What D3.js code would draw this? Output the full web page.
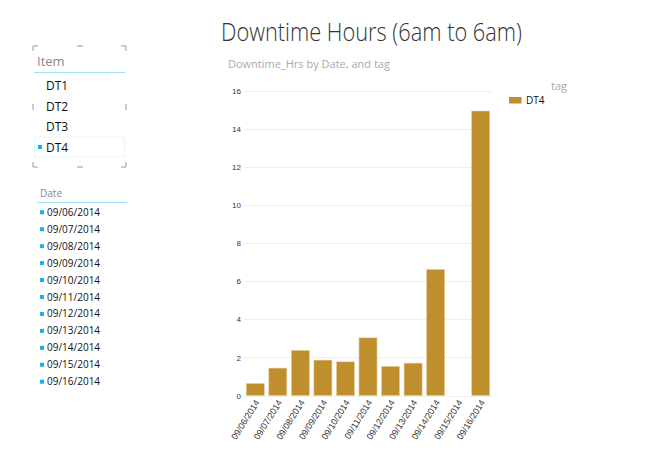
<!DOCTYPE html>
<html>
<head>
<meta charset="utf-8">
<script src="https://cdn.jsdelivr.net/npm/d3@7"></script>
<style>
  body { margin: 0; background: #fff; }
  svg { display: block; font-family: "Segoe UI", "Open Sans", "DejaVu Sans", sans-serif; }
</style>
</head>
<body>
<div id="chart"></div>
<script>
// data
const dates = [`09/06/2014`, `09/07/2014`, `09/08/2014`, `09/09/2014`, `09/10/2014`, `09/11/2014`,
  `09/12/2014`, `09/13/2014`, `09/14/2014`, `09/15/2014`, `09/16/2014`];
const downtimeHrs = [0.63, 1.44, 2.37, 1.86, 1.77, 3.03, 1.53, 1.70, 6.62, 0, 14.95];
const items = [`DT1`, `DT2`, `DT3`, `DT4`];
const selectedItem = `DT4`;
const yTicks = [0, 2, 4, 6, 8, 10, 12, 14, 16];
const seriesName = `DT4`;

const W = 669, H = 470;
const BAR_COLOR = `#bf8e2d`;

let svg = d3.select(`#chart`).append(`svg`)
  .attr(`width`, W)
  .attr(`height`, H);

// title
svg.append(`text`)
  .attr(`x`, 221).attr(`y`, 41)
  .attr(`textLength`, 301).attr(`lengthAdjust`, `spacingAndGlyphs`)
  .style(`font-size`, `25px`).style(`font-weight`, 300)
  .attr(`fill`, `#333`)
  .text(`Downtime Hours (6am to 6am)`);

// #region item slicer
let itemSlicer = svg.append(`g`).attr(`class`, `itemSlicer`);
let box = {x0: 33, y0: 46, x1: 126, y1: 167};
let cornerLen = 5;
let cornerMarks = [
  [[box.x0, box.y0 + cornerLen], [box.x0, box.y0], [box.x0 + cornerLen, box.y0]],
  [[box.x1 - cornerLen, box.y0], [box.x1, box.y0], [box.x1, box.y0 + cornerLen]],
  [[box.x0, box.y1 - cornerLen], [box.x0, box.y1], [box.x0 + cornerLen, box.y1]],
  [[box.x1 - cornerLen, box.y1], [box.x1, box.y1], [box.x1, box.y1 - cornerLen]],
  [[77, box.y0], [83, box.y0]],
  [[77, box.y1], [83, box.y1]],
  [[box.x0, 104], [box.x0, 110]],
  [[box.x1, 104], [box.x1, 110]]
];
itemSlicer.selectAll(`path.corner`).data(cornerMarks).join(`path`)
  .attr(`class`, `corner`)
  .attr(`d`, d3.line())
  .attr(`fill`, `none`).attr(`stroke`, `#999`).attr(`stroke-width`, 1);

itemSlicer.append(`text`)
  .attr(`x`, 37).attr(`y`, 66)
  .style(`font-size`, `13px`).attr(`fill`, `#888`)
  .text(`Item`);
itemSlicer.append(`line`)
  .attr(`x1`, 34).attr(`x2`, 125).attr(`y1`, 72.5).attr(`y2`, 72.5)
  .attr(`stroke`, `#9fe0f0`).attr(`stroke-width`, 1);

let itemY = d3.scalePoint().domain(items).range([90, 151.5]);
// dotted highlight around the selected item
itemSlicer.append(`rect`)
  .attr(`x`, 34.5).attr(`y`, itemY(selectedItem) - 14.5)
  .attr(`width`, 90).attr(`height`, 20)
  .attr(`fill`, `none`).attr(`stroke`, `#cdeef6`).attr(`stroke-dasharray`, `1,1`);
itemSlicer.selectAll(`text.item`).data(items).join(`text`)
  .attr(`class`, `item`)
  .attr(`x`, 46).attr(`y`, d => itemY(d))
  .style(`font-size`, `12px`).attr(`fill`, `#111`)
  .text(d => d);
itemSlicer.selectAll(`rect.sel`).data(items.filter(d => d === selectedItem)).join(`rect`)
  .attr(`class`, `sel`)
  .attr(`x`, 38).attr(`y`, d => itemY(d) - 6.5)
  .attr(`width`, 4).attr(`height`, 4)
  .attr(`fill`, `#1ab0e8`);
// #endregion

// #region date slicer
let dateSlicer = svg.append(`g`).attr(`class`, `dateSlicer`);
dateSlicer.append(`text`)
  .attr(`class`, `header`)
  .attr(`x`, 40).attr(`y`, 197)
  .style(`font-size`, `10px`).attr(`fill`, `#888`)
  .text(`Date`);
dateSlicer.append(`line`)
  .attr(`x1`, 37).attr(`x2`, 127).attr(`y1`, 202.5).attr(`y2`, 202.5)
  .attr(`stroke`, `#9fe0f0`).attr(`stroke-width`, 1);
let dateY = d3.scalePoint().domain(dates).range([212.3, 381.7]);
dateSlicer.selectAll(`rect.sel`).data(dates).join(`rect`)
  .attr(`class`, `sel`)
  .attr(`x`, 40).attr(`y`, d => dateY(d) - 2)
  .attr(`width`, 4).attr(`height`, 4)
  .attr(`fill`, `#1ab0e8`);
dateSlicer.selectAll(`text.date`).data(dates).join(`text`)
  .attr(`class`, `date`)
  .attr(`x`, 47).attr(`y`, d => dateY(d) + 3.5)
  .style(`font-size`, `10px`).attr(`fill`, `#111`)
  .text(d => d);
// #endregion

// #region column chart
svg.append(`text`)
  .attr(`x`, 228).attr(`y`, 68)
  .style(`font-size`, `11px`).attr(`fill`, `#aaa`)
  .text(`Downtime_Hrs by Date, and tag`);

let x = d3.scaleBand().domain(dates).range([244, 492]).paddingInner(0.2).paddingOuter(0.1);
let y = d3.scaleLinear().domain([0, 16]).range([395.5, 91]);

let grid = svg.append(`g`).attr(`class`, `grid`);
grid.selectAll(`line`).data(yTicks).join(`line`)
  .attr(`x1`, 244).attr(`x2`, 492)
  .attr(`y1`, d => Math.round(y(d)) + 0.5).attr(`y2`, d => Math.round(y(d)) + 0.5)
  .attr(`stroke`, `#eeeeee`);

let yAxis = svg.append(`g`)
  .attr(`transform`, `translate(241,0)`)
  .call(d3.axisLeft(y).tickValues(yTicks).tickSize(0).tickPadding(0));
yAxis.select(`.domain`).remove();
yAxis.selectAll(`text`)
  .style(`font-size`, `8px`).attr(`fill`, `#333`)
  .style(`font-family`, `"Liberation Sans", Arial, sans-serif`);

svg.append(`g`).attr(`class`, `bars`)
  .selectAll(`rect`).data(dates.map((d, i) => ({date: d, value: downtimeHrs[i]})))
  .join(`rect`)
  .filter(d => d.value > 0)
  .attr(`x`, d => x(d.date))
  .attr(`y`, d => y(d.value))
  .attr(`width`, x.bandwidth())
  .attr(`height`, d => y(0) - y(d.value))
  .attr(`fill`, BAR_COLOR)
  .attr(`stroke`, `#e6cf9c`).attr(`stroke-width`, 0.6);

let xAxis = svg.append(`g`)
  .attr(`transform`, `translate(2,${y(0) + 5})`)
  .call(d3.axisBottom(x).tickSize(0).tickPadding(0));
xAxis.select(`.domain`).remove();
xAxis.selectAll(`text`)
  .attr(`text-anchor`, `end`)
  .attr(`dy`, `0.35em`)
  .attr(`transform`, `rotate(-58)`)
  .style(`font-size`, `9px`).attr(`fill`, `#333`)
  .style(`font-family`, `"Liberation Sans", Arial, sans-serif`);

// legend
let legend = svg.append(`g`).attr(`class`, `legend`);
legend.append(`text`)
  .attr(`x`, 551).attr(`y`, 90)
  .style(`font-size`, `11px`).attr(`fill`, `#aaa`)
  .text(`tag`);
legend.append(`rect`)
  .attr(`x`, 509).attr(`y`, 97).attr(`width`, 12.5).attr(`height`, 6.5)
  .attr(`fill`, BAR_COLOR);
legend.append(`text`)
  .attr(`x`, 526).attr(`y`, 104)
  .style(`font-size`, `10px`).attr(`fill`, `#111`)
  .text(seriesName);
// #endregion
</script>
</body>
</html>
